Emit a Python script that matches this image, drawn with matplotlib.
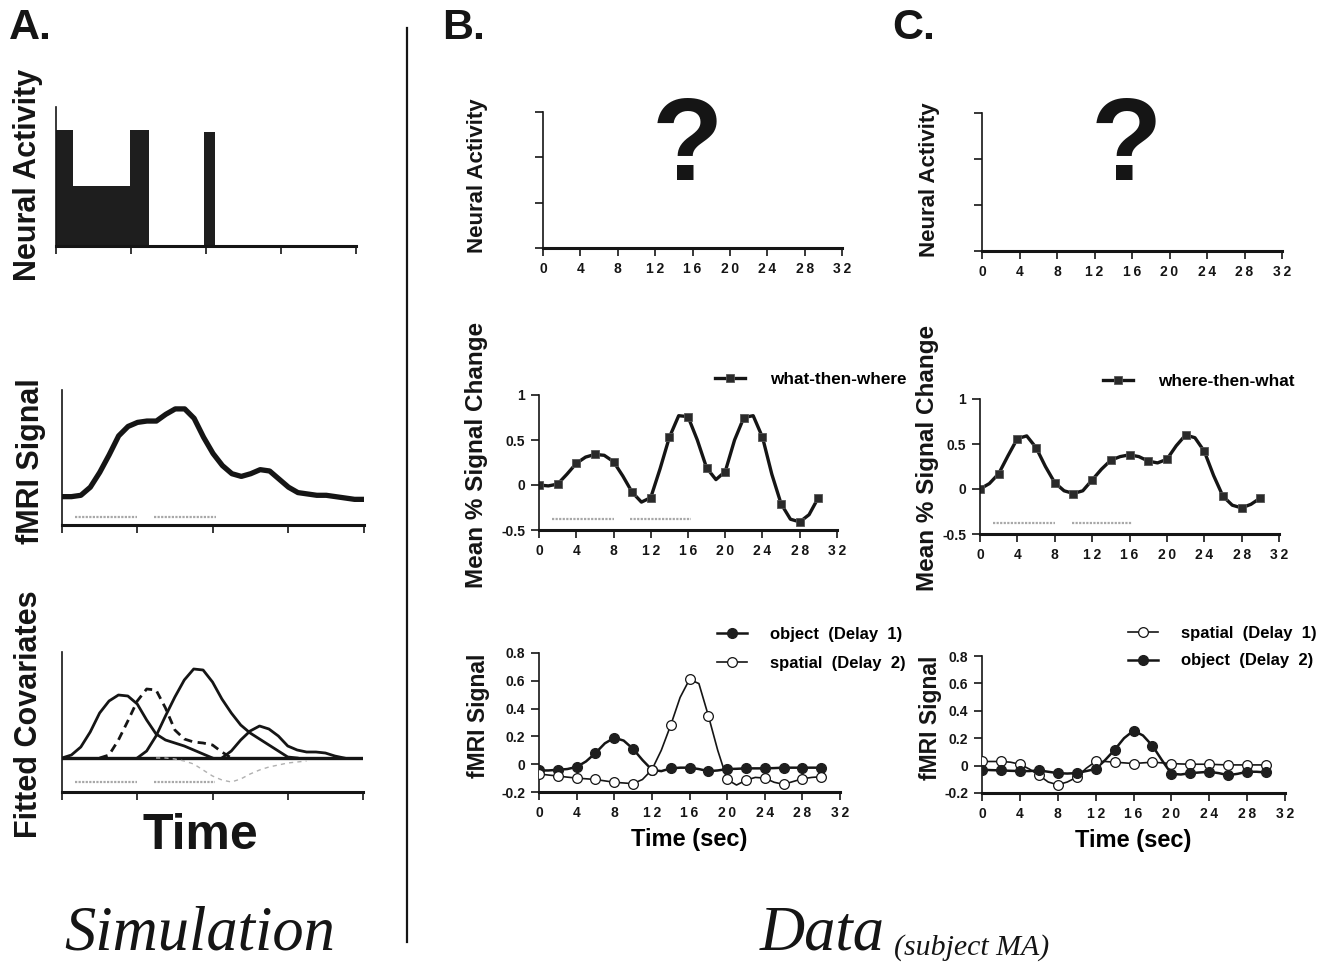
import numpy as np
import matplotlib
matplotlib.use("Agg")
import matplotlib.pyplot as plt
from matplotlib.lines import Line2D

plt.rcParams['font.family'] = ['Liberation Sans', 'DejaVu Sans']
plt.rcParams['font.weight'] = 'bold'

W, H = 1331, 968
INK = '#151515'
STIM = '#a8a8a8'

# ── Panel A: simulation ───────────────────────────────────────────────────────
neural_start = [0.0, 1.8, 7.9, 15.8]
neural_end = [1.8, 7.9, 9.9, 17.0]
neural_height = [1.0, 0.52, 1.0, 0.98]

sim_t = list(range(0, 33))
sim_fmri = [0.21, 0.21, 0.22, 0.28, 0.39, 0.52, 0.66, 0.73, 0.76, 0.77, 0.77,
            0.82, 0.86, 0.86, 0.79, 0.65, 0.53, 0.44, 0.38, 0.36, 0.38, 0.41,
            0.40, 0.34, 0.28, 0.24, 0.23, 0.22, 0.22, 0.21, 0.20, 0.19, 0.19]

cov1_t = list(range(0, 17))
cov1 = [0, 0.03, 0.11, 0.26, 0.45, 0.57, 0.63, 0.62, 0.54, 0.38, 0.24, 0.18,
        0.15, 0.12, 0.08, 0.04, 0.0]
cov2_t = list(range(4, 19))
cov2 = [0, 0.03, 0.18, 0.37, 0.57, 0.69, 0.68, 0.50, 0.28, 0.19, 0.16, 0.15,
        0.13, 0.06, 0.0]
cov3_t = list(range(8, 26))
cov3 = [0, 0.07, 0.22, 0.42, 0.61, 0.78, 0.89, 0.88, 0.76, 0.59, 0.45, 0.33,
        0.25, 0.19, 0.13, 0.07, 0.01, 0.0]
cov4_t = list(range(17, 31))
cov4 = [0, 0.07, 0.18, 0.27, 0.32, 0.29, 0.22, 0.12, 0.08, 0.06, 0.06, 0.05,
        0.02, 0.0]
cov5_t = list(range(10, 27))
cov5 = [0, 0, -0.01, -0.03, -0.06, -0.12, -0.18, -0.22, -0.24, -0.21, -0.16,
        -0.12, -0.09, -0.07, -0.05, -0.04, -0.03]

stim_on = [1.4, 9.8]
stim_off = [8.0, 16.3]

# ── Panels B and C: data ──────────────────────────────────────────────────────
t_mark = list(range(0, 31, 2))
t_line = list(range(0, 31))

b_mid = [0.0, 0.01, 0.24, 0.34, 0.26, -0.08, -0.14, 0.53, 0.76, 0.19, 0.15,
         0.75, 0.53, -0.21, -0.41, -0.14]
b_mid_line = [0.0, -0.01, 0.01, 0.12, 0.24, 0.31, 0.34, 0.33, 0.26, 0.10,
              -0.08, -0.19, -0.14, 0.18, 0.53, 0.77, 0.76, 0.50, 0.19, 0.06,
              0.15, 0.50, 0.75, 0.77, 0.53, 0.12, -0.21, -0.38, -0.41, -0.33,
              -0.14]

c_mid = [0.0, 0.17, 0.56, 0.46, 0.07, -0.05, 0.10, 0.32, 0.38, 0.31, 0.33,
         0.60, 0.42, -0.08, -0.21, -0.10]
c_mid_line = [0.0, 0.06, 0.17, 0.37, 0.56, 0.59, 0.46, 0.25, 0.07, -0.02,
              -0.05, -0.02, 0.10, 0.22, 0.32, 0.36, 0.38, 0.36, 0.31, 0.29,
              0.33, 0.48, 0.60, 0.57, 0.42, 0.15, -0.08, -0.18, -0.21, -0.17,
              -0.10]

b_object = [-0.04, -0.04, -0.02, 0.08, 0.19, 0.11, -0.04, -0.03, -0.025,
            -0.05, -0.035, -0.03, -0.03, -0.025, -0.025, -0.025]
b_object_line = [-0.045, -0.045, -0.04, -0.035, -0.02, 0.02, 0.08, 0.15, 0.19,
                 0.17, 0.11, 0.03, -0.04, -0.05, -0.03, -0.025, -0.025, -0.035,
                 -0.05, -0.045, -0.035, -0.033, -0.03, -0.03, -0.03, -0.028,
                 -0.025, -0.025, -0.025, -0.025, -0.025]
b_spatial = [-0.07, -0.085, -0.10, -0.11, -0.13, -0.14, -0.04, 0.28, 0.61,
             0.35, -0.11, -0.115, -0.10, -0.145, -0.105, -0.09]
b_spatial_line = [-0.07, -0.078, -0.085, -0.093, -0.10, -0.105, -0.11, -0.12,
                  -0.13, -0.135, -0.14, -0.11, -0.04, 0.10, 0.28, 0.48, 0.61,
                  0.58, 0.35, 0.10, -0.11, -0.15, -0.115, -0.095, -0.10, -0.13,
                  -0.145, -0.125, -0.105, -0.095, -0.09]

c_spatial = [0.03, 0.03, 0.01, -0.07, -0.14, -0.085, 0.03, 0.025, 0.015, 0.025,
             0.015, 0.01, 0.01, 0.005, 0.005, 0.005]
c_spatial_line = [0.03, 0.03, 0.03, 0.025, 0.01, -0.025, -0.07, -0.12, -0.14,
                  -0.12, -0.085, -0.02, 0.03, 0.03, 0.025, 0.02, 0.015, 0.02,
                  0.025, 0.02, 0.015, 0.012, 0.01, 0.01, 0.01, 0.007, 0.005,
                  0.005, 0.005, 0.005, 0.005]
c_object = [-0.03, -0.035, -0.04, -0.035, -0.055, -0.055, -0.025, 0.115,
            0.255, 0.145, -0.06, -0.055, -0.045, -0.07, -0.045, -0.05]
c_object_line = [-0.03, -0.033, -0.035, -0.038, -0.04, -0.04, -0.035, -0.045,
                 -0.055, -0.058, -0.055, -0.04, -0.025, 0.04, 0.115, 0.20, 0.255,
                 0.22, 0.145, 0.04, -0.06, -0.065, -0.055, -0.05, -0.045, -0.055,
                 -0.07, -0.06, -0.045, -0.045, -0.05]

x_ticks = list(range(0, 33, 4))


def spaced(s):
    return '\u2009'.join(s)


def px_axes(fig, left, top, right, bottom):
    return fig.add_axes([left / W, 1 - bottom / H, (right - left) / W,
                         (bottom - top) / H])


def frame(ax, lw=1.2, bottom_lw=2.2):
    for side in ('top', 'right'):
        ax.spines[side].set_visible(False)
    ax.spines['left'].set_linewidth(lw)
    ax.spines['bottom'].set_linewidth(bottom_lw)
    ax.spines['left'].set_color(INK)
    ax.spines['bottom'].set_color(INK)
    ax.tick_params(colors=INK, width=1.2, length=6, direction='out')
    ax.set_xlim(0, 32)


def data_axis(ax, yticks, ylabels):
    frame(ax)
    ax.set_xticks(x_ticks)
    ax.set_xticklabels([spaced(str(v)) for v in x_ticks], fontsize=10,
                       fontweight='bold')
    ax.set_yticks(yticks)
    ax.set_yticklabels(ylabels, fontsize=10, fontweight='bold')
    ax.tick_params(axis='both', pad=4)


def stim_bars(ax, y):
    for a, b in zip(stim_on, stim_off):
        ax.plot([a, b], [y, y], color=STIM, lw=1.6, ls=(0, (1, 0.6)))


fig = plt.figure(figsize=(W / 100, H / 100), dpi=100)

# A top
ax = px_axes(fig, 56, 107, 356, 246)
frame(ax)
ax.bar(neural_start, neural_height,
       width=[e - s for s, e in zip(neural_start, neural_end)],
       align='edge', color='#1e1e1e', edgecolor='#1e1e1e', linewidth=0)
ax.set_ylim(0, 1.2)
ax.set_xticks([0, 8, 16, 24, 32])
ax.set_xticklabels([])
ax.set_yticks([])

# A middle
ax = px_axes(fig, 62, 390, 364, 525)
frame(ax)
ax.plot(sim_t, sim_fmri, color=INK, lw=3.8, solid_capstyle='round',
        solid_joinstyle='round')
stim_bars(ax, 0.06)
ax.set_ylim(0, 1)
ax.set_xticks([0, 8, 16, 24, 32])
ax.set_xticklabels([])
ax.set_yticks([])

# A bottom
ax = px_axes(fig, 62, 652, 363, 792)
frame(ax)
ax.axhline(0, color=INK, lw=2.4)
ax.plot(cov5_t, cov5, color='#b0b0b0', lw=1.0, ls=(0, (3, 3)))
ax.plot(cov1_t, cov1, color=INK, lw=2.0)
ax.plot(cov2_t, cov2, color=INK, lw=2.0, ls=(0, (3, 2)))
ax.plot(cov3_t, cov3, color=INK, lw=2.0)
ax.plot(cov4_t, cov4, color=INK, lw=2.0)
stim_bars(ax, -0.24)
ax.set_ylim(-0.34, 1.06)
ax.set_xticks([0, 8, 16, 24, 32])
ax.set_xticklabels([])
ax.set_yticks([])

# B and C top: neural activity unknown
for left, right, top, bottom, qx in [(543, 842, 112, 248, 687),
                                     (982, 1282, 113, 251, 1126)]:
    ax = px_axes(fig, left, top, right, bottom)
    data_axis(ax, [0, 1, 2, 3], [])
    ax.set_ylim(0, 3)
    fig.text(qx / W, 1 - 150 / H, '?', fontsize=84, ha='center', va='center',
             color=INK, fontweight='bold')

mid_ticks = [-0.5, 0, 0.5, 1]
mid_labels = ['-0.5', '0', '0.5', '1']
bot_ticks = [-0.2, 0, 0.2, 0.4, 0.6, 0.8]
bot_labels = ['-0.2', '0', '0.2', '0.4', '0.6', '0.8']

sq = dict(marker='s', markersize=5.5, markerfacecolor='#2a2a2a',
          markeredgecolor='#555555', markeredgewidth=0.6)
dot = dict(marker='o', markersize=7, markerfacecolor='#1e1e1e',
           markeredgecolor='#1e1e1e')
ring = dict(marker='o', markersize=7, markerfacecolor='white',
            markeredgecolor=INK, markeredgewidth=0.9)


def mid_panel(left, top, right, bottom, mark, line, label, leg_x, leg_y):
    ax = px_axes(fig, left, top, right, bottom)
    data_axis(ax, mid_ticks, mid_labels)
    ax.set_ylim(-0.5, 1)
    ax.plot(t_line, line, color=INK, lw=2.4, solid_joinstyle='round')
    ax.plot(t_mark, mark, ls='none', **sq)
    stim_bars(ax, -0.38)
    h = [Line2D([], [], color=INK, lw=2.4, **sq)]
    ax.legend(h, [label], loc='center left', frameon=False, fontsize=12.3,
              bbox_to_anchor=(leg_x / W, 1 - leg_y / H),
              bbox_transform=fig.transFigure, borderpad=0, borderaxespad=0,
              handlelength=1.75, handletextpad=1.45)


mid_panel(539, 395, 837, 530, b_mid, b_mid_line, 'what-then-where', 715, 379)
mid_panel(980, 399, 1279, 534, c_mid, c_mid_line, 'where-then-what', 1103, 381)


def bot_panel(left, top, right, bottom, series, leg_x, leg_y, spacing):
    ax = px_axes(fig, left, top, right, bottom)
    data_axis(ax, bot_ticks, bot_labels)
    ax.set_ylim(-0.2, 0.8)
    handles, labels = [], []
    for mark, line, style, lw, label in series:
        ax.plot(t_line, line, color=INK, lw=lw, zorder=2,
                solid_joinstyle='round')
        ax.plot(t_mark, mark, ls='none', zorder=3, **style)
        handles.append(Line2D([], [], color=INK, lw=lw, **style))
        labels.append(label)
    ax.legend(handles, labels, loc='upper left', frameon=False, fontsize=12,
              bbox_to_anchor=(leg_x / W, 1 - leg_y / H),
              bbox_transform=fig.transFigure, borderpad=0, borderaxespad=0,
              handlelength=1.8, handletextpad=1.4, labelspacing=spacing)
    ax.set_xlabel('Time (sec)', fontsize=17, fontweight='bold', labelpad=6)


bot_panel(539, 653, 840, 792,
          [(b_object, b_object_line, dot, 1.8, 'object  (Delay  1)'),
           (b_spatial, b_spatial_line, ring, 1.2, 'spatial  (Delay  2)')],
          717, 627, 0.86)
bot_panel(982, 656, 1285, 793,
          [(c_spatial, c_spatial_line, ring, 1.2, 'spatial  (Delay  1)'),
           (c_object, c_object_line, dot, 1.8, 'object  (Delay  2)')],
          1128, 626, 0.75)

# ── Labels ────────────────────────────────────────────────────────────────────
def ylab(x, y, s, size):
    fig.text(x / W, 1 - y / H, s, rotation=90, ha='center', va='center',
             fontsize=size, fontweight='bold', color=INK)


ylab(28, 175, 'Neural Activity', 22)
ylab(31, 461, 'fMRI Signal', 22)
ylab(29, 714, 'Fitted Covariates', 22)
ylab(478, 176, 'Neural Activity', 16)
ylab(930, 180, 'Neural Activity', 16)
ylab(476, 455, 'Mean % Signal Change', 17.5)
ylab(927, 458, 'Mean % Signal Change', 17.5)
ylab(478, 716, 'fMRI Signal', 16.5)
ylab(930, 718, 'fMRI Signal', 16.5)

fig.text(200 / W, 1 - 836 / H, 'Time', fontsize=36, fontweight='bold',
         ha='center', va='center', color=INK)

for x, s in [(30, 'A.'), (464, 'B.'), (914, 'C.')]:
    fig.text(x / W, 1 - 28 / H, s, fontsize=31, fontweight='bold',
             ha='center', va='center', color=INK)

fig.add_artist(Line2D([407 / W, 407 / W], [1 - 28 / H, 1 - 942 / H],
                      color=INK, lw=1.6))

serif = ['Liberation Serif', 'DejaVu Serif']
fig.text(200 / W, 1 - 935 / H, 'Simulation', fontsize=45, style='italic',
         fontweight='normal', family=serif, ha='center', va='center',
         color=INK)
fig.text(760 / W, 1 - 935 / H, 'Data', fontsize=45, style='italic',
         fontweight='normal', family=serif, ha='left', va='center', color=INK)
fig.text(894 / W, 1 - 948 / H, '(subject MA)', fontsize=21.5, style='italic',
         fontweight='normal', family=serif, ha='left', va='center', color=INK)

fig.savefig('out.png', dpi=100)
